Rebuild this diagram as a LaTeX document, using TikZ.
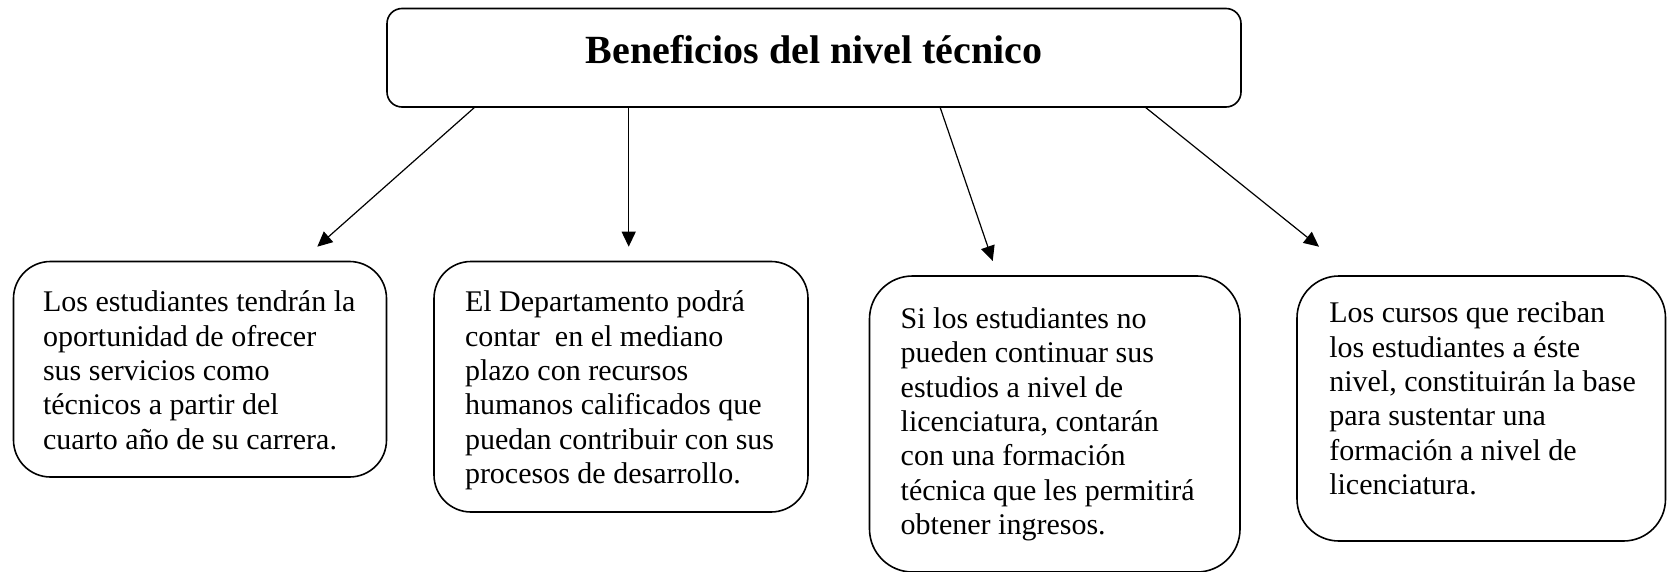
\documentclass[tikz,border=0pt]{standalone}
\usepackage{fontspec}
\setmainfont{Liberation Serif}
\usetikzlibrary{arrows.meta}
\begin{document}
\begin{tikzpicture}[x=1pt,y=-1pt,
  topbox/.style={draw, line width=1.6pt, rounded corners=15pt, inner sep=0pt, outer sep=0pt},
  sidebox/.style={draw, line width=1.6pt, inner sep=0pt, outer sep=0pt},
  txt/.style={inner sep=0pt, outer sep=0pt, align=left, anchor=base west, font=\fontsize{30}{34.4}\selectfont},
  ttl/.style={inner sep=0pt, outer sep=0pt, anchor=base, font=\fontsize{40}{46}\selectfont\bfseries},
  arr/.style={line width=1.2pt, -{Triangle[length=15pt,width=14pt]}}]
\useasboundingbox (0,0) rectangle (1667,572);
% top box
\node[topbox, minimum width=854pt, minimum height=98.5pt] (top) at (814,57.75) {};
\node[ttl] (title) at (814,63.5) {Beneficios del nivel técnico};
% lower boxes
\node[sidebox, rounded corners=37pt, minimum width=373pt, minimum height=215.5pt] (b1) at (200,369.25) {};
\node[sidebox, rounded corners=37pt, minimum width=374pt, minimum height=250.5pt] (b2) at (621,386.75) {};
\node[sidebox, rounded corners=43pt, minimum width=370.5pt, minimum height=296pt] (b3) at (1054.75,424) {};
\node[sidebox, rounded corners=42pt, minimum width=368.5pt, minimum height=265pt] (b4) at (1481.25,408.5) {};
% texts (anchored at the baseline of the last line)
\node[txt] (t1) at (43,449.3) {Los estudiantes tendrán la\\oportunidad de ofrecer\\sus servicios como\\técnicos a partir del\\cuarto año de su carrera.};
\node[txt] (t2) at (465,483.7) {El Departamento podrá\\contar\ \ en el mediano\\plazo con recursos\\humanos calificados que\\puedan contribuir con sus\\procesos de desarrollo.};
\node[txt] (t3) at (900.7,534.7) {Si los estudiantes no\\pueden continuar sus\\estudios a nivel de\\licenciatura, contarán\\con una formación\\técnica que les permitirá\\obtener ingresos.};
\node[txt] (t4) at (1329.3,494.7) {Los cursos que reciban\\los estudiantes a éste\\nivel, constituirán la base\\para sustentar una\\formación a nivel de\\licenciatura.};
% arrow ends
\coordinate (e1) at (317.3,246.7);
\coordinate (e2) at (628.7,246.7);
\coordinate (e3) at (992.7,261);
\coordinate (e4) at (1319,246.7);
\draw[arr] ([xshift=-339pt]top.south) -- (e1);
\draw[arr] ([xshift=-185.3pt]top.south) -- (e2);
\draw[arr] ([xshift=126pt]top.south) -- (e3);
\draw[arr] ([xshift=331pt]top.south) -- (e4);
\end{tikzpicture}
\end{document}
